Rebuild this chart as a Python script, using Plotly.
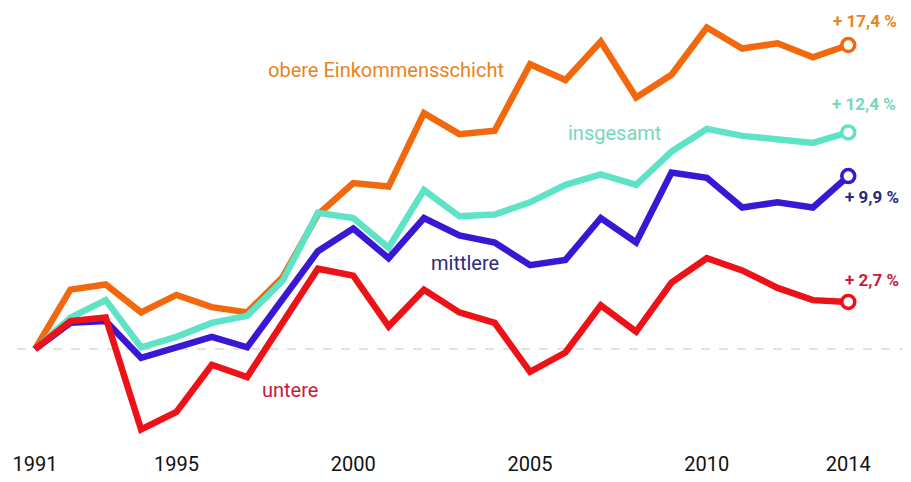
import plotly.graph_objects as go

years = list(range(1991, 2015))

obere = [0, 3.4, 3.7, 2.1, 3.1, 2.4, 2.1, 4.1, 7.7, 9.5, 9.3, 13.5,
         12.3, 12.5, 16.3, 15.4, 17.6, 14.4, 15.7, 18.4, 17.2, 17.5, 16.7, 17.4]
insgesamt = [0, 1.8, 2.8, 0.1, 0.7, 1.5, 1.9, 3.9, 7.8, 7.5, 5.8, 9.1,
             7.6, 7.7, 8.4, 9.4, 10.0, 9.4, 11.3, 12.6, 12.2, 12.0, 11.8, 12.4]
mittlere = [0, 1.5, 1.6, -0.5, 0.1, 0.7, 0.1, 2.8, 5.6, 6.9, 5.2, 7.5,
            6.5, 6.1, 4.8, 5.1, 7.5, 6.1, 10.1, 9.8, 8.1, 8.4, 8.1, 9.9]
untere = [0, 1.6, 1.8, -4.6, -3.6, -0.9, -1.6, 1.5, 4.6, 4.2, 1.3, 3.4,
          2.1, 1.5, -1.3, -0.2, 2.5, 1.0, 3.8, 5.2, 4.5, 3.5, 2.8, 2.7]

tick_years = [1991, 1995, 2000, 2005, 2010, 2014]

FONT = "Roboto, sans-serif"

series = [
    ("obere Einkommensschicht", obere, "#F2680F", "#E8841E", 2000.93, 15.95,
     "+ 17,4 %", 2014.48, 18.8),
    ("insgesamt", insgesamt, "#5FE3C6", "#74D8BE", 2007.38, 12.35,
     "+ 12,4 %", 2014.45, 14.05),
    ("mittlere", mittlere, "#3A17D4", "#2E2A78", 2003.16, 4.9,
     "+ 9,9 %", 2014.68, 8.7),
    ("untere", untere, "#EC1218", "#C81A3C", 1998.2, -2.35,
     "+ 2,7 %", 2014.68, 3.95),
]

fig = go.Figure()

# dashed baseline at 0 %
fig.add_shape(type="line", xref="paper", yref="y", x0=0.01, x1=1, y0=0, y1=0,
              line=dict(color="#d9d9d9", width=1.5, dash="dash"), layer="below")

for name, vals, col, txtcol, lx, ly, end, ex, ey in series:
    fig.add_trace(go.Scatter(
        x=years, y=vals, mode="lines", name=name,
        line=dict(color=col, width=6.5),
    ))
    fig.add_trace(go.Scatter(
        x=[years[-1]], y=[vals[-1]], mode="markers",
        marker=dict(size=13, color="white", line=dict(color=col, width=3.5)),
    ))
    fig.add_annotation(x=lx, y=ly, text=name, showarrow=False,
                       font=dict(family=FONT, size=20, color=txtcol))
    fig.add_annotation(x=ex, y=ey, text="<b>" + end + "</b>", showarrow=False,
                       font=dict(family=FONT, size=17, color=txtcol))

fig.update_layout(
    width=911, height=482,
    showlegend=False,
    paper_bgcolor="white",
    plot_bgcolor="white",
    margin=dict(l=0, r=0, t=0, b=52),
)

fig.update_xaxes(
    range=[1990.236, 2016.0],
    tickvals=tick_years,
    ticktext=[str(y) for y in tick_years],
    tickfont=dict(family=FONT, size=20, color="#111"),
    ticks="",
    ticklabelstandoff=12,
    showgrid=False, zeroline=False, showline=False,
)

fig.update_yaxes(
    range=[-5.09, 19.52],
    showticklabels=False,
    showgrid=False, zeroline=False, showline=False,
)

fig.write_html("out.html")
